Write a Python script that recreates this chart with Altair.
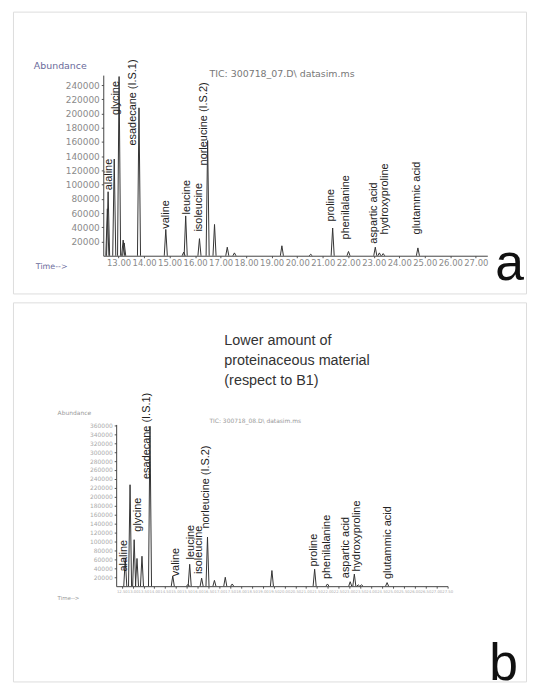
import altair as alt
import pandas as pd

# ---------------- data ----------------
names = ["alaline", "glycine", "esadecane (I.S.1)", "valine", "leucine", "isoleucine",
         "norleucine (I.S.2)", "proline", "phenilalanine", "aspartic acid",
         "hydroxyproline", "glutammic acid"]

# panel a : retention time (min) and abundance of each peak
a_peak_t = [12.56, 12.59, 12.83, 13.02, 13.18, 13.22, 13.80, 14.85, 15.55, 15.63, 16.17,
            16.49, 16.76, 17.26, 17.54, 19.40, 20.53, 21.39, 22.01, 23.06, 23.22, 23.37, 24.73]
a_peak_h = [66000, 90000, 136000, 252000, 22000, 18000, 208000, 37000, 5000, 56000, 24000,
            162000, 44000, 12000, 4000, 14000, 2000, 39000, 6000, 12000, 4000, 3000, 11000]
a_label_t = [12.63, 12.91, 13.57, 14.85, 15.67, 16.17, 16.33, 21.31, 21.93, 23.02, 23.45, 24.70]
a_label_y = [92000, 198000, 155000, 38000, 58000, 34000, 127000, 48000, 23000, 17000, 30000, 30000]
a_xticks = list(range(13, 28))
a_yticks = list(range(20000, 260000, 20000))

# panel b
b_peak_t = [12.66, 12.88, 13.07, 13.20, 13.43, 13.80, 14.85, 15.55, 15.63, 16.18, 16.45,
            16.77, 17.27, 17.59, 19.42, 21.39, 21.98, 23.03, 23.22, 23.40, 23.55, 24.73]
b_peak_h = [62000, 227000, 104000, 62000, 67000, 358000, 23000, 4000, 49000, 18000, 110000,
            13000, 20000, 5000, 35000, 38000, 5000, 10000, 27000, 3000, 3000, 8000]
b_label_t = [12.61, 13.25, 13.66, 14.99, 15.67, 16.04, 16.40, 21.34, 21.98, 22.85, 23.35, 24.77]
b_label_y = [33000, 122000, 240000, 22000, 60000, 27000, 129000, 44000, 16000, 18000, 33000, 16000]
b_xticks = [12.5 + 0.5 * i for i in range(31)]
b_yticks = list(range(20000, 380000, 20000))


def trace(ts, hs, w):
    rows = []
    for i, (t, h) in enumerate(zip(ts, hs)):
        rows += [{"t": t - w, "v": 0, "id": i, "o": 0},
                 {"t": t, "v": h, "id": i, "o": 1},
                 {"t": t + w, "v": 0, "id": i, "o": 2}]
    return pd.DataFrame(rows)


def note(text, x, y, size, color, font="DejaVu Sans", align="left", baseline="middle", **kw):
    return alt.Chart(alt.Data(values=[{}])).mark_text(
        text=text, fontSize=size, color=color, font=font, align=align, baseline=baseline, **kw
    ).encode(x=alt.value(x), y=alt.value(y))


def panel(W, H, ts, hs, lt, ly, xdom, xrange, ydom, yrange, xticks, yticks,
          xfs, yfs, tickcol, w):
    xs = alt.Scale(domain=xdom, range=xrange, nice=False, zero=False)
    ys = alt.Scale(domain=ydom, range=yrange, nice=False)
    xaxis = alt.Axis(values=xticks, format=".2f", title=None, grid=False,
                     labelFontSize=xfs, labelColor=tickcol, labelFont="DejaVu Sans",
                     tickSize=2, tickColor="#555", domainColor="#444", labelPadding=1,
                     labelFlush=False, labelOverlap=False, labelBound=False,
                     offset=-(H - yrange[0]))
    yaxis = alt.Axis(values=yticks, format="d", title=None, grid=False,
                     labelFontSize=yfs, labelColor=tickcol, labelFont="DejaVu Sans",
                     tickSize=2, tickColor="#555", domainColor="#444", labelPadding=2,
                     labelOverlap=False, labelFlush=False, labelBound=False,
                     offset=-xrange[0])
    peaks = alt.Chart(trace(ts, hs, w)).mark_line(color="#333", strokeWidth=1).encode(
        x=alt.X("t:Q", scale=xs, axis=xaxis),
        y=alt.Y("v:Q", scale=ys, axis=yaxis),
        detail="id:N",
        order="o:Q",
    )
    lab = alt.Chart(pd.DataFrame({"name": names, "t": lt, "y": ly})).mark_text(
        angle=270, align="left", baseline="middle", fontSize=11, font="Liberation Sans",
        color="#222"
    ).encode(x=alt.X("t:Q", scale=xs, axis=xaxis), y=alt.Y("y:Q", scale=ys, axis=yaxis),
             text="name:N")
    return peaks, lab


WA, HA = 517, 284
WB, HB = 517, 382

pa, la = panel(WA, HA, a_peak_t, a_peak_h, a_label_t, a_label_y,
               [12.4, 27.45], [91, 478], [0, 254000], [246, 64],
               a_xticks, a_yticks, 8.5, 9, "#8a8a8a", 0.06)
chart_a = alt.layer(
    pa, la,
    note("Abundance", 21, 55, 9.5, "#6a6a9a"),
    note("TIC: 300718_07.D\\ datasim.ms", 198, 63, 9.5, "#777"),
    note("Time-->", 23, 257, 8, "#6a6a9a"),
    note("a", 486, 270, 52, "#111", font="Liberation Sans", baseline="alphabetic"),
).properties(width=WA, height=HA)

pb, lb = panel(WB, HB, b_peak_t, b_peak_h, b_label_t, b_label_y,
               [12.24, 27.52], [104, 438], [0, 362000], [286, 123],
               b_xticks, b_yticks, 3.8, 6, "#aaa", 0.07)
chart_b = alt.layer(
    pb, lb,
    note("Abundance", 45, 111, 6, "#999"),
    note("TIC: 300718_08.D\\ datasim.ms", 198, 120, 6, "#999"),
    note("Time-->", 45, 298, 5.5, "#999"),
    note(["Lower amount of", "proteinaceous material", "(respect to B1)"], 213, 32, 14.5,
         "#333", font="Liberation Sans", baseline="top", lineHeight=20),
    note("b", 480, 381, 52, "#111", font="Liberation Sans", baseline="alphabetic"),
).properties(width=WB, height=HB)

chart = alt.vconcat(chart_a, chart_b, spacing=7).properties(
    padding={"left": 4, "top": 0, "right": 0, "bottom": 0}
).configure_view(stroke="#555", strokeWidth=1.5).configure(background="white")

chart.save("out.html", embed_options={"renderer": "svg", "actions": False})
